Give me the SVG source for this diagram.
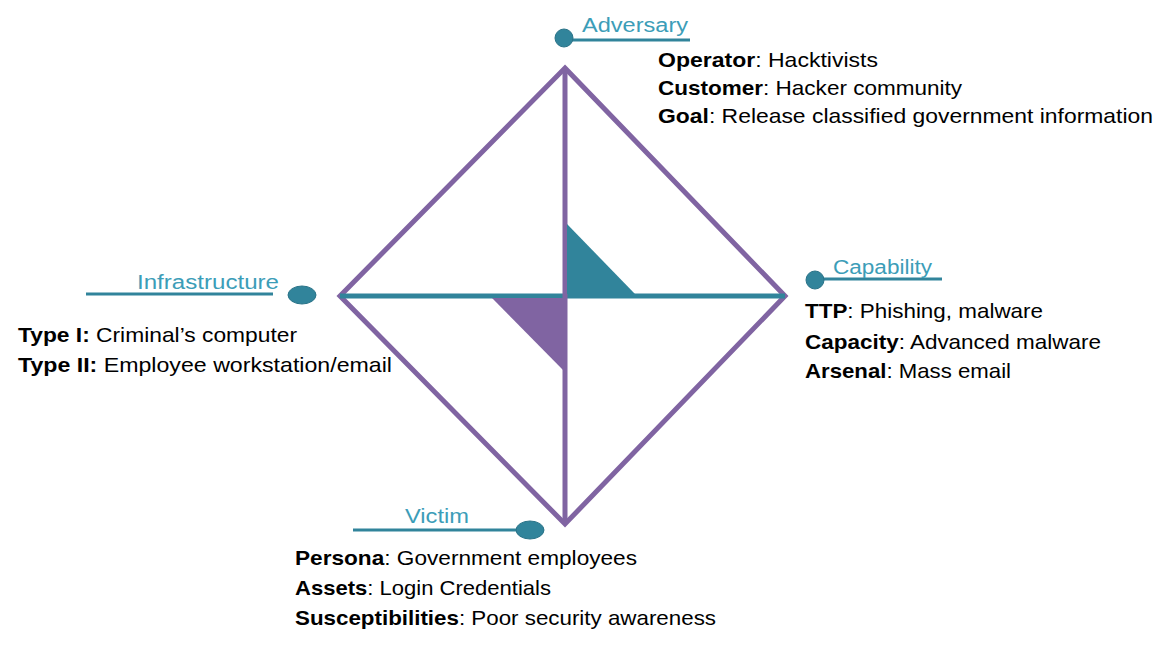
<svg xmlns="http://www.w3.org/2000/svg" width="1170" height="652" viewBox="0 0 1170 652">
<style>
.t{font-family:"Liberation Sans","Open Sans",sans-serif;font-size:21px;fill:#000}
.b{font-weight:bold}
.h{font-family:"Liberation Sans","Open Sans",sans-serif;font-size:20px;fill:#3C9DB8}
.ul{stroke:#31849B;stroke-width:3;fill:none}
.dot{fill:#31849B;stroke:#2A7388;stroke-width:1}
.pl{stroke:#8064A2;stroke-width:5;fill:none}
.tl{stroke:#31849B;stroke-width:5;fill:none}
</style>
<rect width="1170" height="652" fill="#fff"/>
<g id="connectors">
<polygon class="pl" points="565,68 785,296 565,524 340,296" stroke-linejoin="miter"/>
<line class="tl" x1="340" y1="296" x2="785" y2="296"/>
<line class="pl" x1="565" y1="68" x2="565" y2="524"/>
<polygon points="567,224 567,294 635,294" fill="#31849B"/>
<polygon points="492,298 563,298 563,370" fill="#8064A2"/>
</g>
<g id="adversary">
<line class="ul" x1="564" y1="40" x2="690" y2="40"/>
<circle class="dot" cx="564" cy="38" r="9"/>
<text class="h" x="582" y="32" textLength="106" lengthAdjust="spacingAndGlyphs">Adversary</text>
<text class="t" x="658" y="67" textLength="220" lengthAdjust="spacingAndGlyphs"><tspan class="b">Operator</tspan>: Hacktivists</text>
<text class="t" x="658" y="95" textLength="304" lengthAdjust="spacingAndGlyphs"><tspan class="b">Customer</tspan>: Hacker community</text>
<text class="t" x="658" y="123" textLength="495" lengthAdjust="spacingAndGlyphs"><tspan class="b">Goal</tspan>: Release classified government information</text>
</g>
<g id="infrastructure">
<line class="ul" x1="86" y1="294" x2="273" y2="294"/>
<ellipse class="dot" cx="302" cy="295" rx="14" ry="9"/>
<text class="h" x="137" y="289" textLength="142" lengthAdjust="spacingAndGlyphs">Infrastructure</text>
<text class="t" x="18" y="342" textLength="279" lengthAdjust="spacingAndGlyphs"><tspan class="b">Type I:</tspan> Criminal’s computer</text>
<text class="t" x="18" y="372" textLength="374" lengthAdjust="spacingAndGlyphs"><tspan class="b">Type II:</tspan> Employee workstation/email</text>
</g>
<g id="capability">
<line class="ul" x1="815" y1="279" x2="942" y2="279"/>
<circle class="dot" cx="815" cy="280" r="9"/>
<text class="h" x="833" y="274" textLength="99" lengthAdjust="spacingAndGlyphs">Capability</text>
<text class="t" x="805" y="318" textLength="238" lengthAdjust="spacingAndGlyphs"><tspan class="b">TTP</tspan>:  Phishing, malware</text>
<text class="t" x="805" y="349" textLength="296" lengthAdjust="spacingAndGlyphs"><tspan class="b">Capacity</tspan>: Advanced malware</text>
<text class="t" x="805" y="378" textLength="206" lengthAdjust="spacingAndGlyphs"><tspan class="b">Arsenal</tspan>: Mass email</text>
</g>
<g id="victim">
<line class="ul" x1="353" y1="530" x2="525" y2="530"/>
<ellipse class="dot" cx="530" cy="530" rx="14" ry="9"/>
<text class="h" x="405" y="523" textLength="64" lengthAdjust="spacingAndGlyphs">Victim</text>
<text class="t" x="295" y="565" textLength="342" lengthAdjust="spacingAndGlyphs"><tspan class="b">Persona</tspan>: Government employees</text>
<text class="t" x="295" y="595" textLength="256" lengthAdjust="spacingAndGlyphs"><tspan class="b">Assets</tspan>: Login Credentials</text>
<text class="t" x="295" y="625" textLength="421" lengthAdjust="spacingAndGlyphs"><tspan class="b">Susceptibilities</tspan>: Poor security awareness</text>
</g>
</svg>
